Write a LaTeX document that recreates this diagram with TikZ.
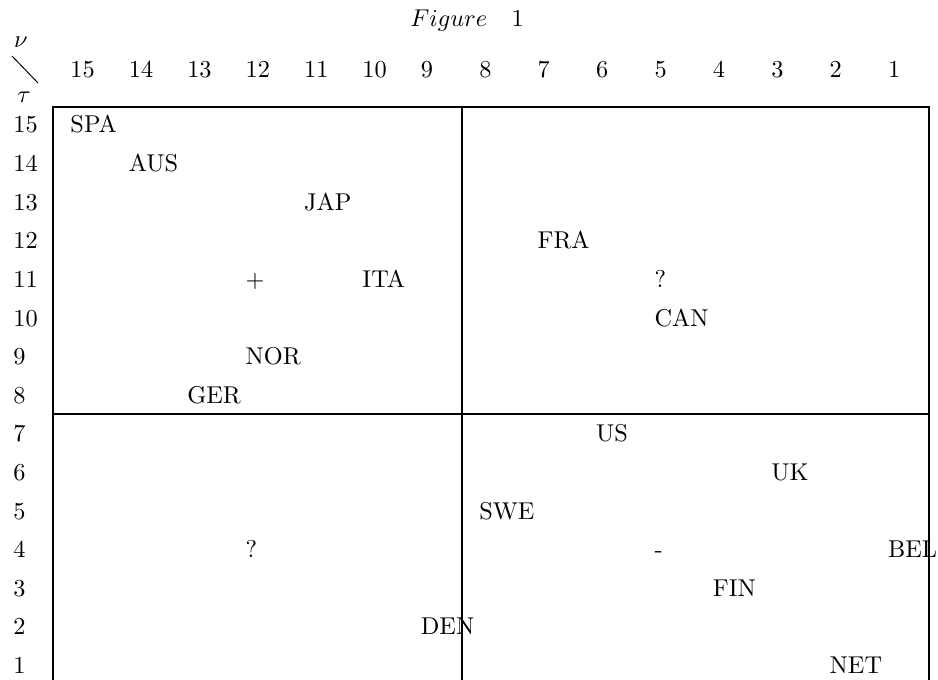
\documentclass[tikz,border=0pt]{standalone}
\usepackage{tikz}
\usetikzlibrary{positioning}
\tikzset{
  cell/.style={anchor=base west, inner sep=0pt},
  rowlabel/.style={anchor=base west, inner sep=0pt},
  frame/.style={line width=0.8pt},
}
\newcommand{\colx}[1]{70+58.4*(#1)}
\newcommand{\rowy}[1]{133+38.6*(15-#1)}

\begin{document}
\begin{tikzpicture}[x=0.411pt, y=-0.411pt]
\useasboundingbox (0,0) rectangle (938,680);
\node[cell] (title) at (410,27) {$Figure \quad 1$};
\node (nu) at (21,42) {$\nu$};
\node (tau) at (24,97) {$\tau$};
\coordinate (slashtop) at (12,56);
\coordinate (slashbot) at (38,83);
\draw (slashtop) -- (slashbot);

\foreach \c [count=\k from 0] in {15,14,...,1}
  \node[cell] (col\c) at ({\colx{\k}},78) {\c};
\foreach \r in {15,14,...,1}
  \node[rowlabel] (row\r) at (13,{\rowy{\r}}) {\r};

\coordinate (tl) at (53,107);
\coordinate (tr) at (929,107);
\coordinate (bl) at (53,680);
\coordinate (br) at (929,680);
\coordinate (midtop) at (462,107);
\coordinate (midbot) at (462,680);
\coordinate (midleft) at (53,414);
\coordinate (midright) at (929,414);
\draw[frame] (bl) -- (tl) -- (tr) -- (br);
\draw[frame] (midtop) -- (midbot);
\draw[frame] (midleft) -- (midright);

\node[cell] (spa) at ({\colx{0}},{\rowy{15}}) {SPA};
\node[cell] (aus) at ({\colx{1}},{\rowy{14}}) {AUS};
\node[cell] (jap) at ({\colx{4}},{\rowy{13}}) {JAP};
\node[cell] (fra) at ({\colx{8}},{\rowy{12}}) {FRA};
\node[cell] (plus) at ({\colx{3}},{\rowy{11}}) {$+$};
\node[cell] (ita) at ({\colx{5}},{\rowy{11}}) {ITA};
\node[cell] (qtop) at ({\colx{10}},{\rowy{11}}) {?};
\node[cell] (can) at ({\colx{10}},{\rowy{10}}) {CAN};
\node[cell] (nor) at ({\colx{3}},{\rowy{9}}) {NOR};
\node[cell] (ger) at ({\colx{2}},{\rowy{8}}) {GER};
\node[cell] (us) at ({\colx{9}},{\rowy{7}}) {US};
\node[cell] (uk) at ({\colx{12}},{\rowy{6}}) {UK};
\node[cell] (swe) at ({\colx{7}},{\rowy{5}}) {SWE};
\node[cell] (qbot) at ({\colx{3}},{\rowy{4}}) {?};
\node[cell] (minus) at ({\colx{10}},{\rowy{4}}) {-};
\node[cell] (bel) at ({\colx{14}},{\rowy{4}}) {BEL};
\node[cell] (fin) at ({\colx{11}},{\rowy{3}}) {FIN};
\node[cell] (den) at ({\colx{6}},{\rowy{2}}) {DEN};
\node[cell] (net) at ({\colx{13}},{\rowy{1}}) {NET};
\end{tikzpicture}
\end{document}
